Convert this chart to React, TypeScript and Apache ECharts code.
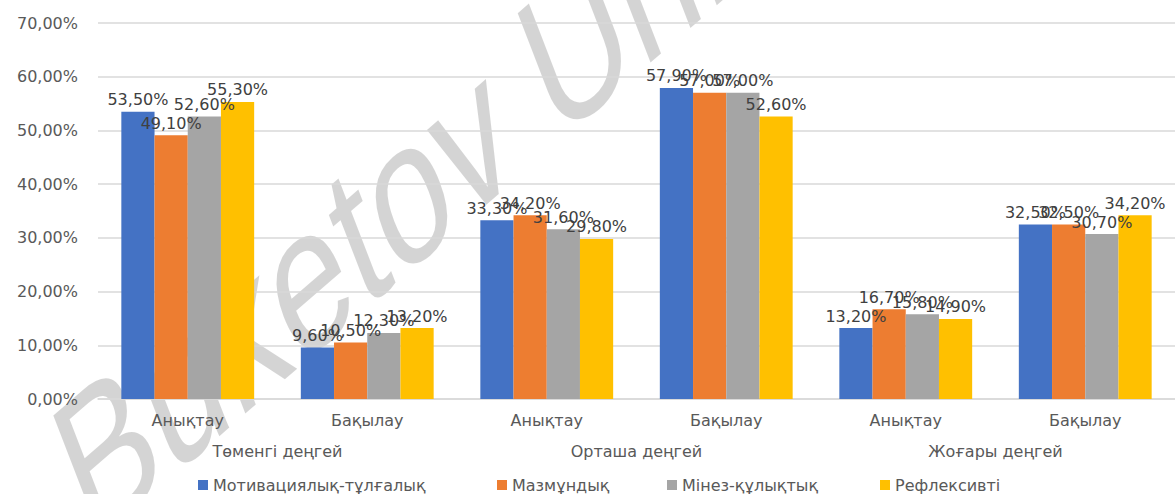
import React, { useEffect, useRef } from "react";
import * as echarts from "echarts";

const categories = ["Анықтау", "Бақылау", "Анықтау", "Бақылау", "Анықтау", "Бақылау"];
const groups = ["Төменгі деңгей", "Орташа деңгей", "Жоғары деңгей"];
const seriesNames = ["Мотивациялық-тұлғалық", "Мазмұндық", "Мінез-құлықтық", "Рефлексивті"];
const motivation = [53.5, 9.6, 33.3, 57.9, 13.2, 32.5];
const content = [49.1, 10.5, 34.2, 57.0, 16.7, 32.5];
const behavior = [52.6, 12.3, 31.6, 57.0, 15.8, 30.7];
const reflexive = [55.3, 13.2, 29.8, 52.6, 14.9, 34.2];
const colors = ["#4472C4", "#ED7D31", "#A5A5A5", "#FFC000"];
const watermark = "Buketov Uni";

const fmt = (v: number) => v.toFixed(2).replace(".", ",") + "%";
const FONT = "DejaVu Sans";
const legendLefts = [198, 497, 667, 880];

export default function App() {
  const ref = useRef<HTMLDivElement>(null);
  useEffect(() => {
    if (!ref.current) return;
    const chart = echarts.init(ref.current, undefined, { renderer: "svg" });
    const data = [motivation, content, behavior, reflexive];
    chart.setOption({
      animation: false,
      textStyle: { fontFamily: FONT },
      grid: { left: 98, right: 0, top: 23, bottom: 95, containLabel: false },
      legend: seriesNames.map((name, i) => ({
        data: [name],
        left: legendLefts[i],
        top: 477,
        padding: 0,
        icon: "rect",
        itemWidth: 10,
        itemHeight: 10,
        itemGap: 0,
        textStyle: { fontFamily: FONT, fontSize: 16, color: "#595959" },
      })),
      xAxis: [
        {
          type: "category",
          data: categories,
          axisLine: { show: true, lineStyle: { color: "#d9d9d9", width: 1.5 } },
          axisTick: { show: false },
          axisLabel: { color: "#595959", fontSize: 16, margin: 13, fontFamily: FONT },
        },
        {
          type: "category",
          data: groups,
          position: "bottom",
          axisLine: { show: false },
          axisTick: { show: false },
          splitLine: { show: false },
          axisLabel: { color: "#595959", fontSize: 16, margin: 44, fontFamily: FONT },
        },
      ],
      yAxis: {
        type: "value",
        min: 0,
        max: 70,
        interval: 10,
        axisLine: { show: false },
        axisTick: { show: false },
        splitLine: { lineStyle: { color: "#d9d9d9", width: 1.5 } },
        axisLabel: { color: "#595959", fontSize: 16, margin: 20, fontFamily: FONT, formatter: (v: number) => fmt(v) },
      },
      series: seriesNames.map((name, i) => ({
        name,
        type: "bar",
        xAxisIndex: 0,
        data: data[i],
        barGap: "0%",
        barCategoryGap: "26%",
        itemStyle: { color: colors[i] },
        label: {
          show: true,
          position: "top",
          distance: 4,
          color: "#404040",
          fontSize: 16,
          fontFamily: FONT,
          formatter: (p: any) => fmt(p.value),
        },
      })),
      graphic: [
        {
          type: "group",
          x: 0,
          y: 0,
          scaleY: 1.5,
          z: 100,
          silent: true,
          children: [
            {
              type: "text",
              x: 101.6,
              y: 383.1,
              rotation: 0.5236,
              silent: true,
              style: {
                text: watermark,
                fontSize: 138,
                fontFamily: "Liberation Sans",
                fill: "rgba(0,0,0,0.17)",
                textVerticalAlign: "bottom",
              },
            },
          ],
        },
      ],
    });
    return () => chart.dispose();
  }, []);
  return <div ref={ref} style={{ width: 1175, height: 494, position: "absolute", left: 0, top: 0 }} />;
}
